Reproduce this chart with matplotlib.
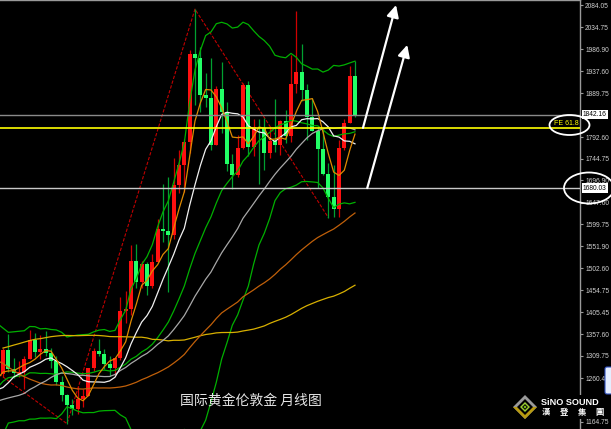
import numpy as np
import matplotlib
matplotlib.use("Agg")
import matplotlib.pyplot as plt
import matplotlib.transforms as mtransforms
from matplotlib.patches import Ellipse, Polygon, FancyBboxPatch, Rectangle

plt.rcParams['font.family'] = ['Liberation Sans', 'DejaVu Sans']

# Monthly gold (XAU/USD) bars, Aug 2017 .. Feb 2023
months = ['2017-08', '2017-09', '2017-10', '2017-11', '2017-12',
          '2018-01', '2018-02', '2018-03', '2018-04', '2018-05', '2018-06',
          '2018-07', '2018-08', '2018-09', '2018-10', '2018-11', '2018-12',
          '2019-01', '2019-02', '2019-03', '2019-04', '2019-05', '2019-06',
          '2019-07', '2019-08', '2019-09', '2019-10', '2019-11', '2019-12',
          '2020-01', '2020-02', '2020-03', '2020-04', '2020-05', '2020-06',
          '2020-07', '2020-08', '2020-09', '2020-10', '2020-11', '2020-12',
          '2021-01', '2021-02', '2021-03', '2021-04', '2021-05', '2021-06',
          '2021-07', '2021-08', '2021-09', '2021-10', '2021-11', '2021-12',
          '2022-01', '2022-02', '2022-03', '2022-04', '2022-05', '2022-06',
          '2022-07', '2022-08', '2022-09', '2022-10', '2022-11', '2022-12',
          '2023-01', '2023-02']

opens = [1269, 1322, 1280, 1271, 1275,
         1303, 1345, 1318, 1325, 1315, 1298,
         1253, 1223, 1201, 1192, 1214, 1222,
         1282, 1321, 1313, 1292, 1284, 1305,
         1409, 1413, 1520, 1472, 1513, 1464,
         1517, 1589, 1585, 1577, 1687, 1730,
         1781, 1975, 1967, 1886, 1879, 1776,
         1898, 1847, 1734, 1708, 1769, 1907,
         1770, 1814, 1813, 1757, 1783, 1774,
         1829, 1796, 1909, 1937, 1897, 1837,
         1807, 1766, 1711, 1660, 1633, 1769,
         1824, 1928]
highs = [1326, 1357, 1306, 1299, 1309,
         1366, 1361, 1356, 1365, 1326, 1310,
         1266, 1225, 1214, 1243, 1237, 1284,
         1326, 1347, 1324, 1310, 1306, 1439,
         1452, 1555, 1557, 1518, 1516, 1535,
         1611, 1689, 1704, 1747, 1765, 1789,
         1984, 2075, 1992, 1933, 1966, 1906,
         1959, 1871, 1755, 1798, 1913, 1916,
         1833, 1832, 1834, 1814, 1877, 1831,
         1853, 1974, 2070, 1998, 1910, 1879,
         1814, 1808, 1735, 1730, 1786, 1833,
         1949, 1960]
lows = [1262, 1274, 1261, 1264, 1236,
        1302, 1307, 1303, 1309, 1282, 1245,
        1211, 1160, 1180, 1182, 1196, 1221,
        1276, 1310, 1281, 1266, 1267, 1301,
        1382, 1400, 1459, 1459, 1445, 1459,
        1517, 1562, 1451, 1568, 1670, 1671,
        1757, 1863, 1849, 1860, 1765, 1775,
        1802, 1717, 1677, 1704, 1766, 1751,
        1750, 1688, 1721, 1746, 1759, 1753,
        1780, 1781, 1890, 1872, 1787, 1805,
        1681, 1709, 1615, 1617, 1617, 1765,
        1823, 1836]
closes = [1322, 1280, 1271, 1275, 1303,
          1345, 1318, 1325, 1315, 1298, 1253,
          1224, 1201, 1192, 1214, 1222, 1282,
          1321, 1313, 1292, 1284, 1305, 1409,
          1413, 1520, 1472, 1513, 1464, 1517,
          1589, 1585, 1577, 1687, 1730, 1781,
          1975, 1967, 1886, 1879, 1776, 1898,
          1847, 1734, 1708, 1769, 1907, 1770,
          1814, 1813, 1757, 1783, 1774, 1829,
          1796, 1909, 1937, 1897, 1837, 1807,
          1766, 1711, 1660, 1633, 1769, 1824,
          1928, 1842]

# Earlier monthly closes (May 2009 .. Jul 2017), used only to seed the averages
prior_closes = [979, 927, 954, 955, 1008, 1040, 1182, 1096,
                1081, 1118, 1113, 1180, 1213, 1244, 1181, 1248, 1308, 1359, 1386, 1421,
                1333, 1410, 1439, 1556, 1536, 1500, 1628, 1826, 1620, 1714, 1746, 1565,
                1738, 1710, 1669, 1664, 1561, 1604, 1622, 1692, 1772, 1719, 1713, 1675,
                1663, 1579, 1595, 1472, 1393, 1234, 1313, 1396, 1327, 1323, 1250, 1202,
                1244, 1326, 1284, 1296, 1250, 1327, 1282, 1287, 1210, 1171, 1182, 1184,
                1283, 1212, 1183, 1183, 1190, 1172, 1095, 1133, 1115, 1142, 1065, 1061,
                1118, 1238, 1233, 1293, 1215, 1321, 1351, 1309, 1316, 1277, 1173, 1146,
                1211, 1249, 1249, 1268, 1269, 1242, 1269]

current_price = 1842.16
fe_level = 1812.9
fe_text = 'FE 61.8'
support_level = 1680.03

# Swing points (bar index, price)
zigzag_idx = [-13, 12, 36, 61]
zigzag_price = [1375, 1160, 2075, 1615]

tick_values = [2084.05, 2034.75, 1986.90, 1937.60, 1889.75, 1792.60, 1744.75,
               1696.90, 1647.60, 1599.75, 1551.90, 1502.60, 1454.75, 1405.45,
               1357.60, 1309.75, 1260.45, 1164.75]
tick_labels = ['%.2f' % v for v in tick_values]

title_text = '国际黄金伦敦金 月线图'
brand_text = 'SiNO SOUND'
brand_cn = ['漢', '登', '集', '團']

# ---------------------------------------------------------------- indicators
all_closes = np.array(prior_closes + closes, dtype=float)
n_prior = len(prior_closes)
x_all = np.arange(len(all_closes)) - n_prior


def sma(values, n):
    out = np.full(len(values), np.nan)
    for k in range(n - 1, len(values)):
        out[k] = values[k - n + 1:k + 1].mean()
    return out


def bollinger(values, n, m):
    mid = sma(values, n)
    sd = np.full(len(values), np.nan)
    for k in range(n - 1, len(values)):
        sd[k] = values[k - n + 1:k + 1].std()
    return mid + m * sd, mid, mid - m * sd


ma5 = sma(all_closes, 5)
ma10 = sma(all_closes, 10)
ma30 = sma(all_closes, 30)
ma60 = sma(all_closes, 60)
ma100 = sma(all_closes, 100)
bb_up, bb_mid, bb_lo = bollinger(all_closes, 20, 2)

# ---------------------------------------------------------------- figure
W, H = 611, 429
fig = plt.figure(figsize=(W / 100, H / 100), dpi=100, facecolor='black')
ax = fig.add_axes([0, 0, 580 / W, 1], facecolor='black')

px_per_bar = 5.333
xmin = -3 / px_per_bar
xmax = xmin + 580 / px_per_bar
ax.set_xlim(xmin, xmax)
ax.set_ylim(1148.3, 2095.1)

for s in ['left', 'bottom']:
    ax.spines[s].set_visible(False)
for s in ['right', 'top']:
    ax.spines[s].set_color('#9a9a9a')
    ax.spines[s].set_linewidth(1.0)
ax.set_xticks([])
ax.yaxis.tick_right()
ax.set_yticks(tick_values)
ax.set_yticklabels(tick_labels)
ax.tick_params(axis='y', colors='#9a9a9a', labelcolor='#d0d0d0',
               labelsize=4.8, length=2.5, width=0.8, pad=1.2)

idx = np.arange(len(closes))
o = np.array(opens, float)
h = np.array(highs, float)
l = np.array(lows, float)
c = np.array(closes, float)
up = c >= o

# swing zigzag
ax.plot(zigzag_idx, zigzag_price, color='#c00000', lw=0.8,
        linestyle=(0, (3, 1.5)), zorder=2)

# candles
wick_cols = np.where(up, '#d00000', '#00a030')
ax.vlines(idx, l, h, colors=wick_cols, lw=0.9, zorder=3)
body_cols = np.where(up, '#ff1010', '#22ff66')
body_h = np.where(np.abs(c - o) < 1.5, 1.5, c - o)
ax.bar(idx, body_h, bottom=o, width=0.8, color=body_cols,
       linewidth=0, zorder=4)

# moving averages and bands
vis = x_all >= -2
line_kw = dict(lw=0.9, zorder=5)
ax.plot(x_all[vis], bb_up[vis], color='#00b000', **line_kw)
ax.plot(x_all[vis], bb_mid[vis], color='#00b000', **line_kw)
ax.plot(x_all[vis], bb_lo[vis], color='#00b000', **line_kw)
ax.plot(x_all[vis], ma100[vis], color='#d8b000', **line_kw)
ax.plot(x_all[vis], ma60[vis], color='#c0600a', **line_kw)
ax.plot(x_all[vis], ma30[vis], color='#a8a8a8', **line_kw)
ax.plot(x_all[vis], ma10[vis], color='#f0f0f0', **line_kw)
ax.plot(x_all[vis], ma5[vis], color='#e08a00', **line_kw)

# horizontal levels
ax.axhline(current_price, color='#8a8a8a', lw=1.0, zorder=6)
ax.axhline(fe_level, color='#ffff00', lw=1.2, zorder=6)
ax.axhline(support_level, color='#c8c8c8', lw=1.0, zorder=6)

trans = mtransforms.blended_transform_factory(ax.transAxes, ax.transData)
ax.text(0.997, fe_level + 3, fe_text, transform=trans, ha='right', va='bottom',
        fontsize=5.0, color='#ffff00', zorder=7)
for val in (current_price, support_level):
    ax.text(1.005, val, '%.2f' % val, transform=trans, ha='left', va='center',
            fontsize=4.8, color='black', clip_on=False, zorder=8,
            bbox=dict(boxstyle='square,pad=0.2', fc='white', ec='none'))

# up arrows
arrow_kw = dict(arrowstyle='-|>,head_length=0.6,head_width=0.3',
                color='white', lw=1.6, mutation_scale=12,
                shrinkA=0, shrinkB=0)
ax.annotate('', xy=(73.7, 2084.0), xytext=(67.5, fe_level),
            arrowprops=arrow_kw, zorder=8)
ax.annotate('', xy=(75.8, 1996.0), xytext=(68.3, support_level),
            arrowprops=arrow_kw, zorder=8)

# ---------------------------------------------------------------- overlay (pixel space)
ov = fig.add_axes([0, 0, 1, 1], facecolor='none')
ov.set_xlim(0, W)
ov.set_ylim(H, 0)
ov.axis('off')

ov.add_patch(Ellipse((569.5, 125), 40, 20, fill=False, ec='white', lw=1.3))
ov.add_patch(Ellipse((589, 188), 50, 31, fill=False, ec='white', lw=1.3))

ov.text(251, 401, title_text, fontsize=10, color='#e6e6e6',
        family=['Noto Sans CJK SC', 'DejaVu Sans'], ha='center', va='center')

# brand block
ov.add_patch(Rectangle((539, 395), 72, 24, fc='black', ec='none', zorder=2))
ov.add_patch(FancyBboxPatch((605, 367), 8, 27, boxstyle='round,pad=0,rounding_size=2',
                            fc='#e4eeff', ec='#3050c0', lw=0.8, zorder=1))
cx, cy = 525, 407
ov.add_patch(Polygon([(cx, cy - 12), (cx + 12, cy), (cx, cy + 12), (cx - 12, cy)],
                     closed=True, fc='#9a9a9a', ec='none', zorder=3))
ov.add_patch(Polygon([(cx - 12, cy), (cx + 12, cy), (cx, cy + 12)],
                     closed=True, fc='#b89a10', ec='none', zorder=3))
ov.add_patch(Polygon([(cx, cy - 8), (cx + 8, cy), (cx, cy + 8), (cx - 8, cy)],
                     closed=True, fc='black', ec='none', zorder=4))
ov.add_patch(Polygon([(cx, cy - 5), (cx + 5, cy), (cx, cy + 5), (cx - 5, cy)],
                     closed=True, fc='#9acd32', ec='none', zorder=5))
ov.add_patch(Polygon([(cx, cy - 3), (cx + 3, cy), (cx, cy + 3), (cx - 3, cy)],
                     closed=True, fc='#101010', ec='none', zorder=6))
ov.add_patch(Ellipse((cx, cy), 2.2, 2.2, fc='#7fd000', ec='none', zorder=7))
ov.text(541, 402.5, brand_text, fontsize=6.6, weight='bold', color='white',
        ha='left', va='center', zorder=5)
for k, ch in enumerate(brand_cn):
    ov.text(546 + 18 * k, 412.5, ch, fontsize=6, color='white', weight='bold',
            family=['Noto Sans CJK TC', 'DejaVu Sans'], ha='center', va='center', zorder=5)

fig.savefig('out.png', dpi=100, facecolor='black')
